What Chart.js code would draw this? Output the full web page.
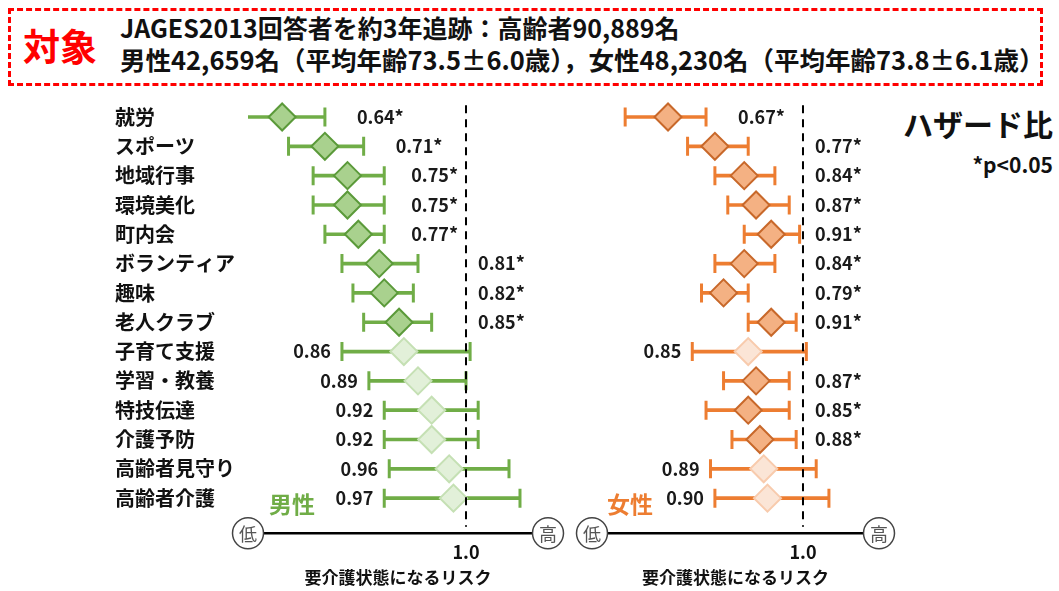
<!DOCTYPE html>
<html lang="ja">
<head>
<meta charset="utf-8">
<script src="https://cdn.jsdelivr.net/npm/chart.js@4.4.0/dist/chart.umd.min.js"></script>
<style>
  body { margin: 0; width: 1059px; height: 591px; background: #fff; position: relative; overflow: hidden;
         font-family: "Noto Sans CJK JP", "Noto Sans", sans-serif; color: #111; }
  #box { position: absolute; left: 8px; top: 8px; width: 1035px; height: 78px; box-sizing: border-box;
         border: 3px dashed #ff0000; }
  .t { position: absolute; white-space: nowrap; font-weight: bold; }
  #taisho { left: 23px; top: 22px; font-size: 37px; line-height: 46px; color: #ff0000; }
  #line1 { left: 120px; top: 12px; font-size: 25px; line-height: 31px; }
  #line2 { left: 120px; top: 43px; font-size: 25.5px; line-height: 31px; }
  #hz { right: 6px; top: 104px; font-size: 30px; line-height: 38px; }
  #pv { right: 6px; top: 150px; font-size: 21px; line-height: 28px; }
  canvas { position: absolute; top: 95px; }
  #maleChart { left: 0; }
  #femaleChart { left: 570px; }
</style>
</head>
<body>
<div id="box"></div>
<div class="t" id="taisho">対象</div>
<div class="t" id="line1">JAGES2013回答者を約3年追跡：高齢者90,889名</div>
<div class="t" id="line2">男性42,659名（平均年齢73.5±6.0歳），女性48,230名（平均年齢73.8±6.1歳）</div>
<div class="t" id="hz">ハザード比</div>
<div class="t" id="pv">*p&lt;0.05</div>
<canvas id="maleChart" width="570" height="496"></canvas>
<canvas id="femaleChart" width="340" height="496"></canvas>
<script>
// activities (rows, top to bottom)
const categories = ['就労', 'スポーツ', '地域行事', '環境美化', '町内会', 'ボランティア', '趣味',
    '老人クラブ', '子育て支援', '学習・教養', '特技伝達', '介護予防', '高齢者見守り', '高齢者介護'];

// hazard ratios with 95% CI, men
const maleHR   = [0.64, 0.71, 0.75, 0.75, 0.77, 0.81, 0.82, 0.85, 0.86, 0.89, 0.92, 0.92, 0.96, 0.97];
const maleLow  = [0.58, 0.65, 0.69, 0.69, 0.71, 0.74, 0.76, 0.78, 0.74, 0.79, 0.82, 0.82, 0.83, 0.82];
const maleHigh = [0.71, 0.78, 0.82, 0.82, 0.82, 0.89, 0.88, 0.92, 1.01, 1.00, 1.03, 1.03, 1.11, 1.14];

// women
const femaleHR   = [0.67, 0.77, 0.84, 0.87, 0.91, 0.84, 0.79, 0.91, 0.85, 0.87, 0.85, 0.88, 0.89, 0.90];
const femaleLow  = [0.59, 0.71, 0.77, 0.80, 0.84, 0.77, 0.74, 0.85, 0.72, 0.79, 0.75, 0.81, 0.76, 0.77];
const femaleHigh = [0.75, 0.85, 0.92, 0.96, 0.99, 0.92, 0.85, 0.98, 1.01, 0.96, 0.96, 0.98, 1.04, 1.08];

const xTicks = [1.0];
const xTitle = '要介護状態になるリスク';

const FONT = '"Noto Sans CJK JP", "Noto Sans", sans-serif';
Chart.defaults.font.family = FONT;

// reference line, risk axis with 低/高 circles, value labels, sex label
const forestDecor = {
    id: 'forestDecor',
    afterDatasetsDraw(chart, args, opts) {
        const { ctx, chartArea: a, scales: { x, y } } = chart;
        const refX = x.getPixelForValue(1);
        ctx.save();

        ctx.strokeStyle = '#000';
        ctx.lineWidth = 2;
        ctx.setLineDash([8, 6]);
        ctx.beginPath();
        ctx.moveTo(refX, a.top + 3);
        ctx.lineTo(refX, a.bottom + 14);
        ctx.stroke();
        ctx.setLineDash([]);

        const axY = a.bottom + 20.5;
        const r = 15.5;
        ctx.lineWidth = 2.5;
        ctx.beginPath();
        ctx.moveTo(a.left + r, axY);
        ctx.lineTo(a.right - r, axY);
        ctx.stroke();
        [[a.left, '低'], [a.right, '高']].forEach(([cx, txt]) => {
            ctx.beginPath();
            ctx.arc(cx, axY, r, 0, Math.PI * 2);
            ctx.fillStyle = '#fff';
            ctx.fill();
            ctx.lineWidth = 1.5;
            ctx.strokeStyle = '#444';
            ctx.stroke();
            ctx.fillStyle = '#555';
            ctx.font = '18px ' + FONT;
            ctx.textAlign = 'center';
            ctx.textBaseline = 'middle';
            ctx.fillText(txt, cx, axY + 1);
        });

        // value labels
        ctx.fillStyle = '#1a1a1a';
        ctx.font = 'bold 18px ' + FONT;
        ctx.textBaseline = 'middle';
        opts.hr.forEach((v, i) => {
            const sig = opts.high[i] < 1;
            const txt = v.toFixed(2) + (sig ? '*' : '');
            const w = ctx.measureText(txt).width;
            const yy = y.getPixelForValue(i);
            ctx.textAlign = 'left';
            if (sig) {
                const hiX = x.getPixelForValue(opts.high[i]);
                const lx = hiX < refX - 65 ? Math.min(hiX + 32, refX - 8 - w) : refX + 12;
                ctx.fillText(txt, lx, yy);
            } else {
                ctx.textAlign = 'right';
                ctx.fillText(txt, x.getPixelForValue(opts.low[i]) - 11, yy);
            }
        });

        ctx.font = 'bold 23px ' + FONT;
        ctx.fillStyle = opts.color;
        ctx.textAlign = 'left';
        ctx.fillText(opts.sex, a.left + opts.sexDx, a.bottom - 9);
        ctx.restore();
    }
};

function createForest(canvasId, hr, low, high, colors, range, sex, sexDx, showLabels, padding) {
    const sig = high.map(h => h < 1);
    const ctx = document.getElementById(canvasId).getContext('2d');
    const yScale = {
        type: 'category',
        offset: true,
        display: showLabels,
        grid: { display: false },
        border: { display: false },
        ticks: { autoSkip: false, crossAlign: 'far', color: '#111', padding: 0, font: { size: 20, weight: 'bold' } }
    };
    if (showLabels) {
        yScale.afterFit = s => { s.width = 133; s.paddingTop = 0; s.paddingBottom = 0; };
    }
    return new Chart(ctx, {
        type: 'bar',
        data: {
            labels: categories,
            datasets: [{
                type: 'bar',
                indexAxis: 'y',
                data: low.map((l, i) => [l, high[i]]),
                backgroundColor: colors.line,
                barThickness: 3,
                borderWidth: 0,
                order: 3
            }, {
                type: 'scatter',
                data: low.map((l, i) => ({ x: l, y: categories[i] }))
                    .concat(high.map((h, i) => ({ x: h, y: categories[i] }))),
                pointStyle: 'line',
                pointRotation: 90,
                pointRadius: 9.5,
                borderColor: colors.line,
                borderWidth: 3,
                order: 2
            }, {
                type: 'scatter',
                data: hr.map((v, i) => ({ x: v, y: categories[i] })),
                pointStyle: 'rectRot',
                pointRadius: 13.5,
                backgroundColor: sig.map(s => s ? colors.fill : colors.fillNs),
                borderColor: sig.map(s => s ? colors.border : colors.borderNs),
                borderWidth: 2,
                order: 1
            }]
        },
        options: {
            responsive: false,
            animation: false,
            layout: { padding: padding, autoPadding: false },
            plugins: {
                legend: { display: false },
                tooltip: { enabled: false },
                forestDecor: { hr: hr, low: low, high: high, sex: sex, sexDx: sexDx, color: colors.line }
            },
            scales: {
                y: yScale,
                x: {
                    type: 'logarithmic',
                    min: range[0],
                    max: range[1],
                    bounds: 'data',
                    grid: {
                        display: true,
                        drawOnChartArea: false,
                        drawTicks: true,
                        tickLength: 29,
                        color: 'rgba(0,0,0,0)',
                        tickColor: 'rgba(0,0,0,0)'
                    },
                    border: { display: false },
                    afterBuildTicks: s => { s.ticks = xTicks.map(v => ({ value: v })); },
                    ticks: {
                        autoSkip: false,
                        maxRotation: 0,
                        padding: 0,
                        color: '#111',
                        font: { size: 18, weight: 'bold' },
                        callback: v => Number(v).toFixed(1)
                    },
                    title: {
                        display: true,
                        text: xTitle,
                        color: '#111',
                        font: { size: 17, weight: 'bold' },
                        padding: { top: 3.6, bottom: 3.6 }
                    }
                }
            }
        },
        plugins: [forestDecor]
    });
}

createForest('maleChart', maleHR, maleLow, maleHigh,
    { line: '#70ad47', fill: '#a9d18e', border: '#5b9a3a', fillNs: '#e2f0d9', borderNs: '#c5e0b4' },
    [0.5891, 1.2202], '男性', 21, true, { left: 115, right: 22, top: 7.35, bottom: 0 });

createForest('femaleChart', femaleHR, femaleLow, femaleHigh,
    { line: '#ed7d31', fill: '#f4b183', border: '#c8682a', fillNs: '#fbe5d6', borderNs: '#f8cbad' },
    [0.5347, 1.2530], '女性', 15, false, { left: 22, right: 31, top: 7.35, bottom: 0 });
</script>
</body>
</html>
